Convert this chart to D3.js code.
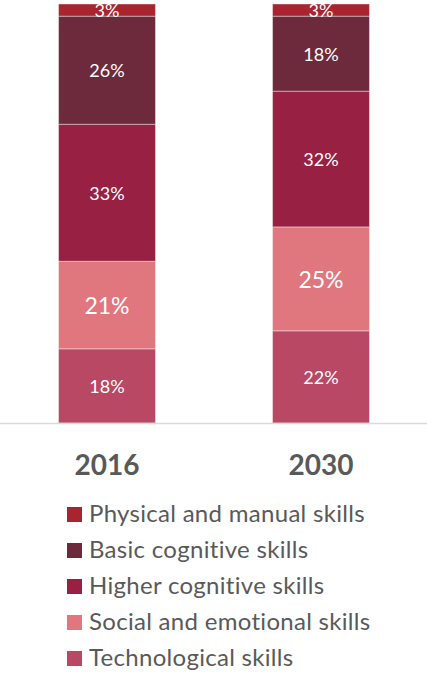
<!DOCTYPE html>
<html>
<head>
<meta charset="utf-8">
<script src="https://cdn.jsdelivr.net/npm/d3@7"></script>
<style>
  html, body { margin: 0; padding: 0; background: #fff; }
  svg { display: block; }
</style>
</head>
<body>
<div id="container"></div>
<script>
// chart data (legend order, top of the stack first)
var years = ["2016", "2030"];
var skills = ["Physical and manual skills", "Basic cognitive skills", "Higher cognitive skills",
              "Social and emotional skills", "Technological skills"];
var share2016 = [2.9, 25.8, 32.7, 20.9, 17.7];
var share2030 = [2.9, 17.9, 32.4, 24.8, 22.0];
var skillColors = ["#a8242f", "#6e2a3d", "#982043", "#e0777f", "#b94865"];

var svgWidth = 427, svgHeight = 673;

var svg = d3.select("div#container")
    .append("svg")
    .attr("width", svgWidth)
    .attr("height", svgHeight);

// build rows for d3.stack
var rows = years.map(function (yr, i) {
    var vals = i == 0 ? share2016 : share2030;
    var row = { year: yr };
    skills.forEach(function (s, j) { row[s] = vals[j]; });
    return row;
});

// stack from the bottom: technological first
var stackKeys = skills.slice().reverse();
var series = d3.stack().keys(stackKeys)(rows);

var color = d3.scaleOrdinal().domain(skills).range(skillColors);

var x = d3.scaleBand()
    .domain(years)
    .range([0, 428])
    .paddingInner(0.547)
    .paddingOuter(0.2735);

var y = d3.scaleLinear()
    .domain([0, 100])
    .range([423, 4]);

// bars
var layer = svg.selectAll("g.layer")
    .data(series)
    .enter()
    .append("g")
    .attr("class", "layer")
    .attr("fill", function (d) { return color(d.key); });

layer.selectAll("rect")
    .data(function (d) { return d; })
    .enter()
    .append("rect")
    .attr("x", function (d) { return x(d.data.year); })
    .attr("y", function (d) { return y(d[1]); })
    .attr("width", x.bandwidth())
    .attr("height", function (d) { return y(d[0]) - y(d[1]); })
    .attr("stroke", "rgba(255,255,255,0.4)")
    .attr("stroke-width", 1);

// value labels
layer.selectAll("text")
    .data(function (d) { return d.map(function (p) { p.key = d.key; return p; }); })
    .enter()
    .append("text")
    .attr("x", function (d) { return x(d.data.year) + x.bandwidth() / 2; })
    .attr("y", function (d) { return (y(d[0]) + y(d[1])) / 2; })
    .attr("text-anchor", "middle")
    .attr("dominant-baseline", "central")
    .attr("fill", "#ffffff")
    .style("font-family", "Lato, 'Open Sans', sans-serif")
    .style("font-size", function (d) { return d.key == "Social and emotional skills" ? "23px" : "18px"; })
    .text(function (d) { return Math.round(d[1] - d[0]) + "%"; });

// baseline
svg.append("line")
    .attr("x1", 0)
    .attr("x2", svgWidth)
    .attr("y1", y(0) + 0.5)
    .attr("y2", y(0) + 0.5)
    .attr("stroke", "#d9d9d9")
    .attr("stroke-width", 1.5);

// year labels
var xAxis = svg.append("g")
    .attr("transform", "translate(0," + y(0) + ")")
    .call(d3.axisBottom(x).tickSize(0).tickPadding(0));
xAxis.select(".domain").remove();
xAxis.selectAll("text")
    .attr("y", 52)
    .attr("dy", 0)
    .attr("fill", "#595959")
    .style("font-family", "Lato, 'Open Sans', sans-serif")
    .style("font-size", "28px")
    .style("font-weight", "bold");

// legend
var legend = svg.selectAll("g.legend")
    .data(skills)
    .enter()
    .append("g")
    .attr("class", "legend")
    .attr("transform", function (d, i) { return "translate(67," + (507 + i * 36) + ")"; });

legend.append("rect")
    .attr("width", 15)
    .attr("height", 15)
    .attr("fill", function (d) { return color(d); });

legend.append("text")
    .attr("x", 22)
    .attr("y", 15)
    .attr("fill", "#595959")
    .style("font-family", "Lato, 'Open Sans', sans-serif")
    .style("font-size", "24px")
    .style("letter-spacing", "0.3px")
    .text(function (d) { return d; });
</script>
</body>
</html>
